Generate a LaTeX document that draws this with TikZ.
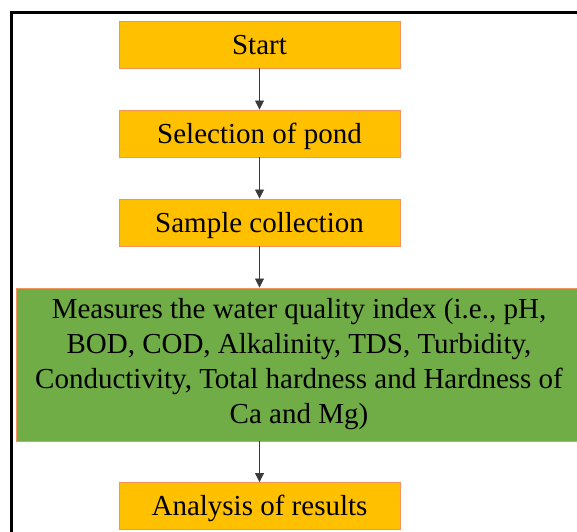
\documentclass[tikz,border=0pt]{standalone}
\usepackage{fontspec}
\setmainfont{Liberation Serif}
\usetikzlibrary{arrows.meta}
\definecolor{boxgold}{HTML}{FFC000}
\definecolor{boxedge}{HTML}{F4935A}
\definecolor{leafgreen}{HTML}{70AD47}
\definecolor{flowline}{HTML}{3A3A3A}
\begin{document}
\begin{tikzpicture}[x=1pt,y=-1pt,
  bodyfont/.style={font=\fontsize{29}{35}\selectfont},
  stepbox/.style={bodyfont, draw=boxedge, line width=0.9pt, fill=boxgold,
    minimum width=281pt, minimum height=47pt, inner sep=0pt,
    text height=25pt, text depth=6pt},
  bigbox/.style={bodyfont, draw=boxedge, line width=0.9pt, fill=leafgreen,
    minimum width=566pt, minimum height=153pt, inner sep=0pt, align=center},
  flow/.style={draw=flowline, line width=0.8pt, -{Triangle[length=9pt,width=9pt]}}]
  \useasboundingbox (0,0) rectangle (577,531);
  \clip (0,0) rectangle (577,531);
  % outer frame (only the top and left sides fall inside the page)
  \draw[line width=3pt] (11.5,560) -- (11.5,12.5) -- (600,12.5);
  % process steps
  \node[stepbox] (start) at (259.5,44.5) {Start};
  \node[stepbox] (pond) at (259.5,133.5) {Selection of pond};
  \node[stepbox] (sample) at (259.5,222.5) {Sample collection};
  \node[bigbox] (wqi) at (299,364.5) {Measures the water quality index (i.e., pH,\\
    BOD, COD, Alkalinity, TDS, Turbidity,\\
    Conductivity, Total hardness and Hardness of\\
    Ca and Mg)};
  \node[stepbox] (results) at (259.5,506) {Analysis of results};
  % connectors
  \draw[flow] (start) -- (pond);
  \draw[flow] (pond) -- (sample);
  \draw[flow] (sample) -- (sample |- wqi.north);
  \draw[flow] (results |- wqi.south) -- (results);
\end{tikzpicture}
\end{document}
